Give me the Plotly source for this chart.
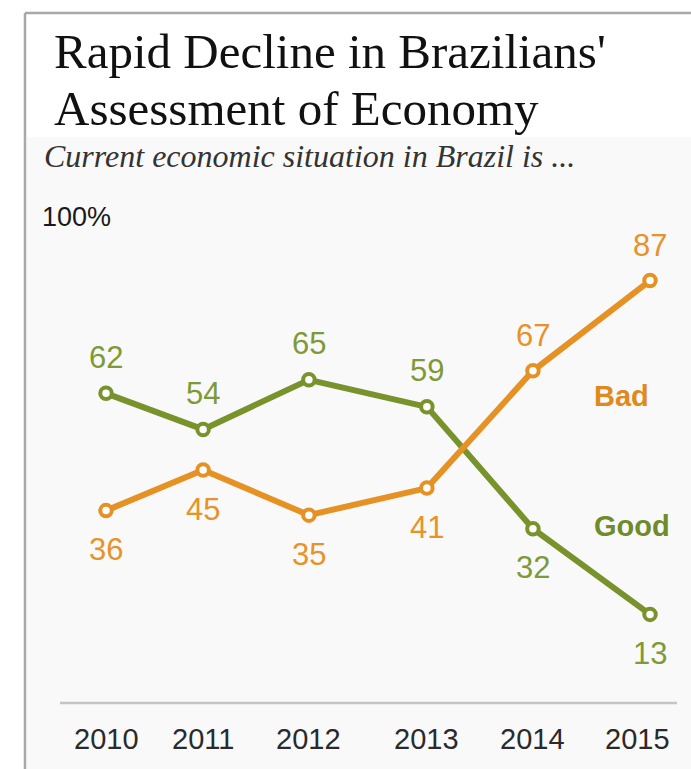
import plotly.graph_objects as go

# Survey waves (fieldwork dates) and share saying the economy is good / bad
years = ["2010", "2011", "2012", "2013", "2014", "2015"]
survey_dates = ["2010-05-01", "2011-03-23", "2012-03-12",
                "2013-04-12", "2014-04-03", "2015-05-01"]
good = [62, 54, 65, 59, 32, 13]
bad = [36, 45, 35, 41, 67, 87]

GREEN = "#78922C"
ORANGE = "#E69123"
W, H = 691, 769
SANS = "Liberation Sans, Arial"
SERIF = "Liberation Serif, Times New Roman"


def py(px):
    """Convert a pixel row (from the top) into paper y."""
    return 1 - px / H


def pxx(px):
    return px / W


fig = go.Figure()

for name, vals, color in [("Good", good, GREEN), ("Bad", bad, ORANGE)]:
    fig.add_trace(go.Scatter(
        x=survey_dates, y=vals, name=name, mode="lines+markers",
        line=dict(color=color, width=6),
        marker=dict(size=11.5, color="white", line=dict(color=color, width=4)),
        showlegend=False, hoverinfo="skip",
    ))

annotations = []

# value labels: Good above for the first four waves, below afterwards; Bad the opposite
for i, (d, v) in enumerate(zip(survey_dates, good)):
    annotations.append(dict(x=d, y=v, xref="x", yref="y", text=str(v), showarrow=False,
                            yanchor="middle", yshift=36 if i < 4 else -39,
                            font=dict(family=SANS, size=31, color="#7E9A36")))
for i, (d, v) in enumerate(zip(survey_dates, bad)):
    annotations.append(dict(x=d, y=v, xref="x", yref="y", text=str(v), showarrow=False,
                            yanchor="middle", yshift=-39 if i < 4 else 35,
                            font=dict(family=SANS, size=31, color="#E8922A")))

# year labels under the baseline
for i, (d, yr) in enumerate(zip(survey_dates, years)):
    annotations.append(dict(x=d, y=py(739), xref="x", yref="paper", text=yr, showarrow=False,
                            yanchor="middle", xshift=-13 if i == len(years) - 1 else 0,
                            font=dict(family=SANS, size=29, color="#2A2A2A")))

# series names
annotations.append(dict(x=pxx(592), y=py(396), xref="paper", yref="paper", xanchor="left",
                        yanchor="middle", text="<b>Bad</b>", showarrow=False,
                        font=dict(family=SANS, size=29, color="#E08A1E")))
annotations.append(dict(x=pxx(592), y=py(526), xref="paper", yref="paper", xanchor="left",
                        yanchor="middle", text="<b>Good</b>", showarrow=False,
                        font=dict(family=SANS, size=29, color="#6F8B2A")))

# 100% scale marker
annotations.append(dict(x=pxx(40), y=py(217), xref="paper", yref="paper", xanchor="left",
                        yanchor="middle", text="100%", showarrow=False,
                        font=dict(family=SANS, size=27, color="#1A1A1A")))

# title and subtitle
annotations.append(dict(x=pxx(52), y=py(52), xref="paper", yref="paper", xanchor="left",
                        yanchor="middle", text="Rapid Decline in Brazilians'", showarrow=False,
                        font=dict(family=SERIF, size=49, color="#111111")))
annotations.append(dict(x=pxx(52), y=py(108), xref="paper", yref="paper", xanchor="left",
                        yanchor="middle", text="Assessment of Economy", showarrow=False,
                        font=dict(family=SERIF, size=49, color="#111111")))
annotations.append(dict(x=pxx(42), y=py(156), xref="paper", yref="paper", xanchor="left",
                        yanchor="middle",
                        text="<i>Current economic situation in Brazil is ...</i>", showarrow=False,
                        font=dict(family=SERIF, size=32, color="#333333")))

shapes = [
    # soft grey panel behind the chart body
    dict(type="rect", xref="paper", yref="paper", x0=pxx(27), x1=1, y0=0, y1=py(137),
         fillcolor="#F9F9F9", line=dict(width=0), layer="below"),
    # frame: left and top rules
    dict(type="line", xref="paper", yref="paper", x0=pxx(25), x1=pxx(25), y0=0, y1=py(13),
         line=dict(color="#A8A8A8", width=2.5)),
    dict(type="line", xref="paper", yref="paper", x0=pxx(25), x1=1, y0=py(13), y1=py(13),
         line=dict(color="#A8A8A8", width=2.5)),
    # baseline rule
    dict(type="line", xref="paper", yref="paper", x0=pxx(60), x1=pxx(677), y0=py(703), y1=py(703),
         line=dict(color="#C4C4C4", width=2.5)),
]

fig.update_layout(
    width=W, height=H,
    margin=dict(l=0, r=0, t=0, b=0),
    paper_bgcolor="white", plot_bgcolor="rgba(0,0,0,0)",
    xaxis=dict(visible=False, type="date",
               range=["2009-05-10 05:00", "2015-09-15 14:00"]),
    yaxis=dict(visible=False, range=[-21.27, 149.18]),
    annotations=annotations,
    shapes=shapes,
)

fig.write_html("out.html")
